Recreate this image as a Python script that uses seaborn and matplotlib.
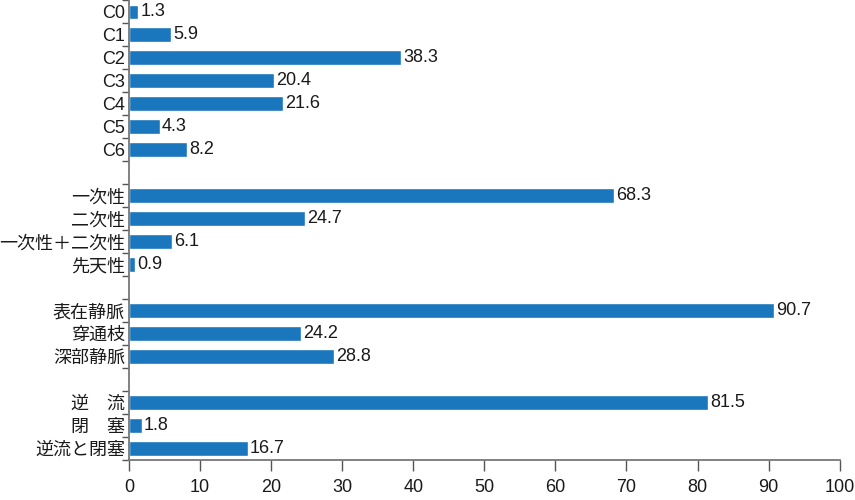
import numpy as np
import pandas as pd
import seaborn as sns
import matplotlib.pyplot as plt

group_stage = ['C0', 'C1', 'C2', 'C3', 'C4', 'C5', 'C6']
values_stage = [1.3, 5.9, 38.3, 20.4, 21.6, 4.3, 8.2]
group_cause = ['一次性', '二次性', '一次性＋二次性', '先天性']
values_cause = [68.3, 24.7, 6.1, 0.9]
group_site = ['表在静脈', '穿通枝', '深部静脈']
values_site = [90.7, 24.2, 28.8]
group_type = ['逆　流', '閉　塞', '逆流と閉塞']
values_type = [81.5, 1.8, 16.7]

# blank rows separate the groups
labels = group_stage + [''] + group_cause + [' '] + group_site + ['  '] + group_type
values = values_stage + [np.nan] + values_cause + [np.nan] + values_site + [np.nan] + values_type
df = pd.DataFrame({'label': labels, 'value': values})

sns.set_style('white')
plt.rcParams['font.family'] = ['Liberation Sans', 'Noto Sans CJK JP', 'DejaVu Sans']
fs = 13

fig = plt.figure(figsize=(8.55, 5), dpi=100)
ax = fig.add_axes([0.151, 0.08, 0.831, 0.919])

sns.barplot(data=df, y='label', x='value', order=labels, orient='h',
            color='#1a76bd', saturation=1, width=0.65, ax=ax)

for i, v in enumerate(values):
    if not np.isnan(v):
        ax.text(v + 0.3, i, f'{v:.1f}', va='center', ha='left', fontsize=fs, color='#1a1a1a')

n = len(labels)
ax.set_xlim(0, 100)
ax.set_ylim(n - 0.5, -0.5)
ax.set_xticks(range(0, 101, 10))
ax.set_yticks(range(n))
ax.set_yticklabels(labels)
ax.set_yticks(np.arange(-0.5, n, 1), minor=True)
ax.tick_params(axis='y', which='major', left=True, length=0, pad=3, labelsize=fs, colors='#1a1a1a')
ax.tick_params(axis='y', which='minor', left=True, length=5, width=1, color='#555555')
ax.tick_params(axis='x', which='major', bottom=True, length=8, width=1, color='#555555', pad=6,
               labelsize=fs, labelcolor='#1a1a1a', direction='out')
ax.set_xlabel('')
ax.set_ylabel('')
for s in ['top', 'right']:
    ax.spines[s].set_visible(False)
for s in ['left', 'bottom']:
    ax.spines[s].set_color('#777777')
    ax.spines[s].set_linewidth(1.3)

fig.savefig('out.png', dpi=100)
